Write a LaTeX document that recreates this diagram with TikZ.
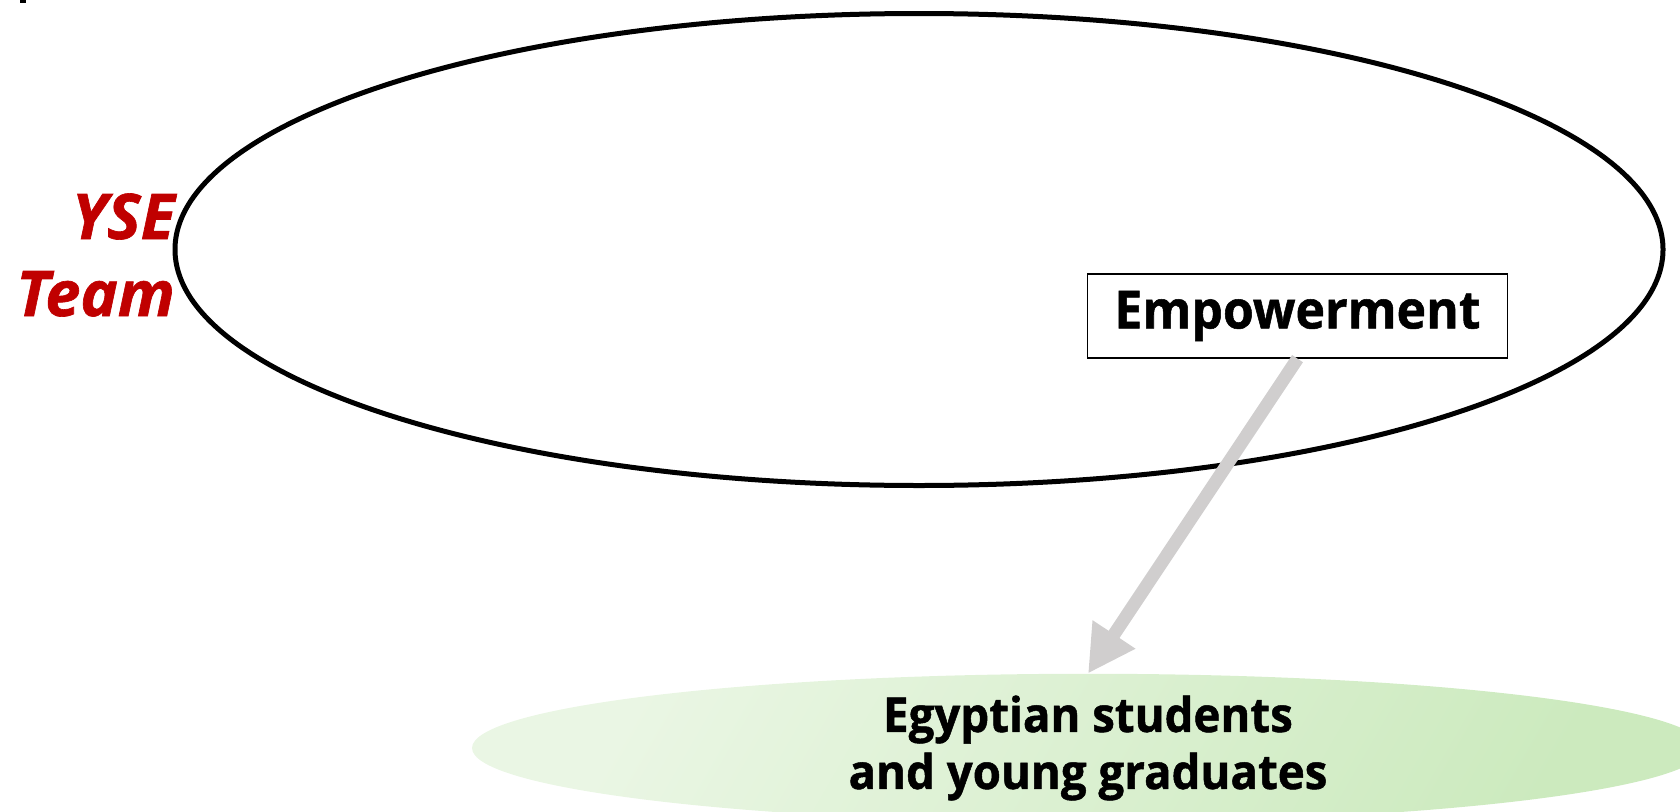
\documentclass[tikz,border=0pt]{standalone}
\usepackage{fontspec}
\setmainfont{Open Sans}
\newfontfamily\narrowsans[FakeStretch=0.95, BoldFeatures={FakeBold=1}]{Open Sans}
\newfontfamily\heavysans[BoldItalicFeatures={FakeBold=1}]{Open Sans}
\usetikzlibrary{shapes.geometric,arrows.meta}
\definecolor{yred}{RGB}{192,0,0}
\definecolor{agray}{RGB}{208,206,206}
\definecolor{gA}{RGB}{234,246,228}
\definecolor{gB}{RGB}{204,234,190}
\begin{document}
\begin{tikzpicture}[x=1pt,y=-1pt,
  bigell/.style={ellipse, draw=black, line width=5pt, minimum width=1488pt, minimum height=472pt, inner sep=0pt},
  labelbox/.style={draw=black, line width=1.3pt, minimum width=420pt, minimum height=84pt, inner sep=0pt, font=\narrowsans\bfseries\fontsize{52.5}{57}\selectfont},
  target/.style={ellipse, minimum width=1232pt, minimum height=144pt, inner sep=0pt, left color=gA, right color=gB, shading angle=60, align=center, font=\narrowsans\bfseries\fontsize{48}{57}\selectfont},
  teamlbl/.style={text=yred, align=right, font=\heavysans\bfseries\itshape\fontsize{63}{77}\selectfont, inner sep=0pt},
  flow/.style={draw=agray, line width=13pt, -{Triangle[length=47pt,width=48pt]}}
]
\useasboundingbox (0,0) rectangle (1680,811);
\fill (20,0) rectangle (26,3);
\node[bigell] (team) at (919,249.5) {};
\node[labelbox] (emp) at (1297.5,316) {Empowerment};
\node[target] (stud) at (1088,748) {Egyptian students\\and young graduates};
\node[teamlbl, anchor=east] (yse) at (175,255) {YSE\\Team};
\draw[flow] (emp.south) -- (stud.north);
\end{tikzpicture}
\end{document}
